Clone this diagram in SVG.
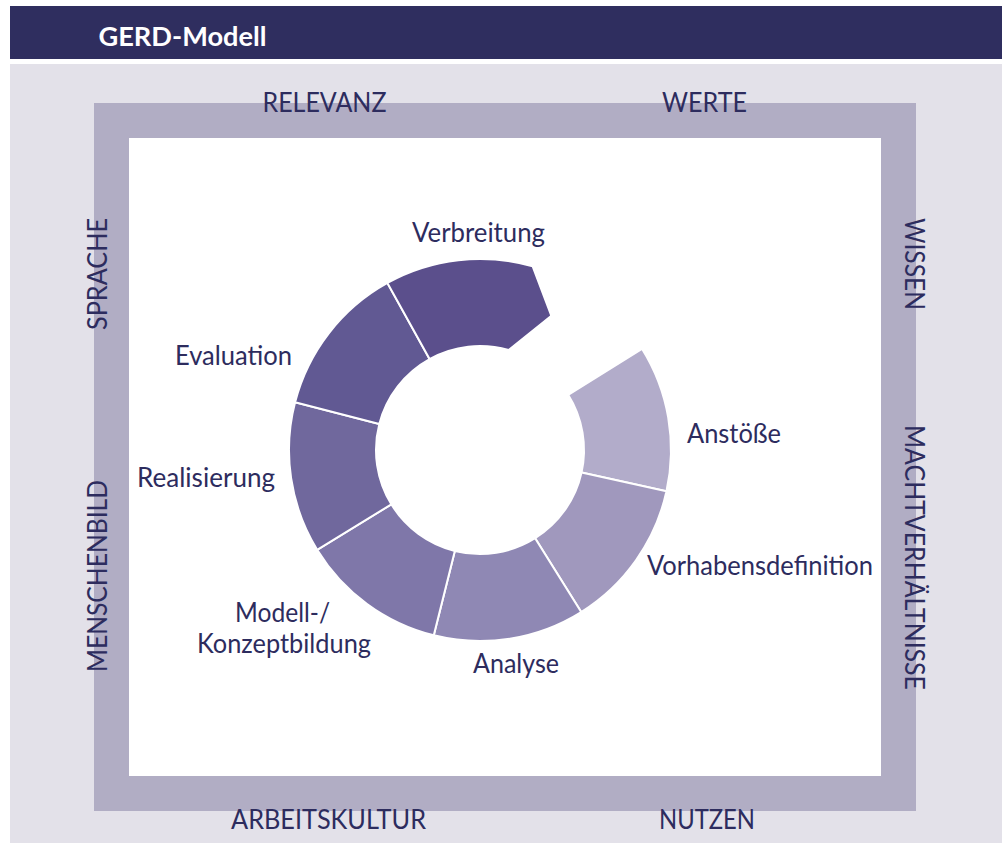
<svg xmlns="http://www.w3.org/2000/svg" width="1002" height="843" viewBox="0 0 1002 843">
<style>
.lbl{font-family:Lato,"Liberation Sans",sans-serif;font-size:26px;fill:#2d2c5e}
.frm{font-family:Lato,"Liberation Sans",sans-serif;font-size:26px;fill:#2d2c5e}
.seg{stroke:#ffffff;stroke-width:2;stroke-linejoin:miter}
</style>
<rect x="0" y="0" width="1002" height="843" fill="#ffffff"/>
<g id="header">
<rect x="10" y="6" width="992" height="53" fill="#2f2e5f"/>
<text x="98.5" y="45.5" font-family="Lato,'Liberation Sans',sans-serif" font-size="27" font-weight="bold" fill="#ffffff" textLength="168" lengthAdjust="spacingAndGlyphs">GERD-Modell</text>
</g>
<rect x="10" y="64" width="992" height="779" fill="#e3e1e9"/>
<g id="frame">
<rect x="94" y="103" width="822" height="708" fill="#b1adc4"/>
<rect x="129" y="138" width="752" height="638" fill="#ffffff"/>
</g>
<g id="frame-labels">
<text class="frm" x="262.5" y="112" textLength="124" lengthAdjust="spacingAndGlyphs">RELEVANZ</text>
<text class="frm" x="662" y="112" textLength="85" lengthAdjust="spacingAndGlyphs">WERTE</text>
<text class="frm" x="231" y="829" textLength="195" lengthAdjust="spacingAndGlyphs">ARBEITSKULTUR</text>
<text class="frm" x="659" y="829" textLength="96" lengthAdjust="spacingAndGlyphs">NUTZEN</text>
<text class="frm" transform="translate(106.5,330) rotate(-90)" x="0" y="0" textLength="112" lengthAdjust="spacingAndGlyphs">SPRACHE</text>
<text class="frm" transform="translate(106.5,672) rotate(-90)" x="0" y="0" textLength="192" lengthAdjust="spacingAndGlyphs">MENSCHENBILD</text>
<text class="frm" transform="translate(904.5,218) rotate(90)" x="0" y="0" textLength="92" lengthAdjust="spacingAndGlyphs">WISSEN</text>
<text class="frm" transform="translate(904.5,425) rotate(90)" x="0" y="0" textLength="265" lengthAdjust="spacingAndGlyphs">MACHTVERHÄLTNISSE</text>
</g>
<g id="anstoesse">
<path class="seg" fill="#b2acca" d="M641.97,348.79 A191,191 0 0 1 666.47,491.34 L581.54,472.51 A104,104 0 0 0 568.19,394.89 Z"/>
<text class="lbl" x="687" y="443" textLength="94" lengthAdjust="spacingAndGlyphs">Anstöße</text>
</g>
<g id="vorhabensdefinition">
<path class="seg" fill="#a098bd" d="M666.47,491.34 A191,191 0 0 1 581.21,611.98 L535.11,538.2 A104,104 0 0 0 581.54,472.51 Z"/>
<text class="lbl" x="647" y="575" textLength="226" lengthAdjust="spacingAndGlyphs">Vorhabensdefinition</text>
</g>
<g id="analyse">
<path class="seg" fill="#8f88b4" d="M581.21,611.98 A191,191 0 0 1 433.79,635.33 L454.84,550.91 A104,104 0 0 0 535.11,538.2 Z"/>
<text class="lbl" x="473" y="673" textLength="86" lengthAdjust="spacingAndGlyphs">Analyse</text>
</g>
<g id="modell">
<path class="seg" fill="#7f77a9" d="M433.79,635.33 A191,191 0 0 1 317.15,549.8 L391.33,504.34 A104,104 0 0 0 454.84,550.91 Z"/>
<text class="lbl" x="235" y="621.5" textLength="95" lengthAdjust="spacingAndGlyphs">Modell-/</text>
<text class="lbl" x="197" y="653" textLength="174" lengthAdjust="spacingAndGlyphs">Konzeptbildung</text>
</g>
<g id="realisierung">
<path class="seg" fill="#70689d" d="M317.15,549.8 A191,191 0 0 1 295.08,402.18 L379.31,423.96 A104,104 0 0 0 391.33,504.34 Z"/>
<text class="lbl" x="137" y="487" textLength="138" lengthAdjust="spacingAndGlyphs">Realisierung</text>
</g>
<g id="evaluation">
<path class="seg" fill="#615993" d="M295.08,402.18 A191,191 0 0 1 387.4,282.95 L429.58,359.04 A104,104 0 0 0 379.31,423.96 Z"/>
<text class="lbl" x="175" y="365" textLength="117" lengthAdjust="spacingAndGlyphs">Evaluation</text>
</g>
<g id="verbreitung">
<path class="seg" fill="#5b4f8c" d="M387.4,282.95 A191,191 0 0 1 532.65,266.4 L551.36,315.79 L508.67,350.03 A104,104 0 0 0 429.58,359.04 Z"/>
<text class="lbl" x="412" y="242" textLength="133" lengthAdjust="spacingAndGlyphs">Verbreitung</text>
</g>
</svg>
